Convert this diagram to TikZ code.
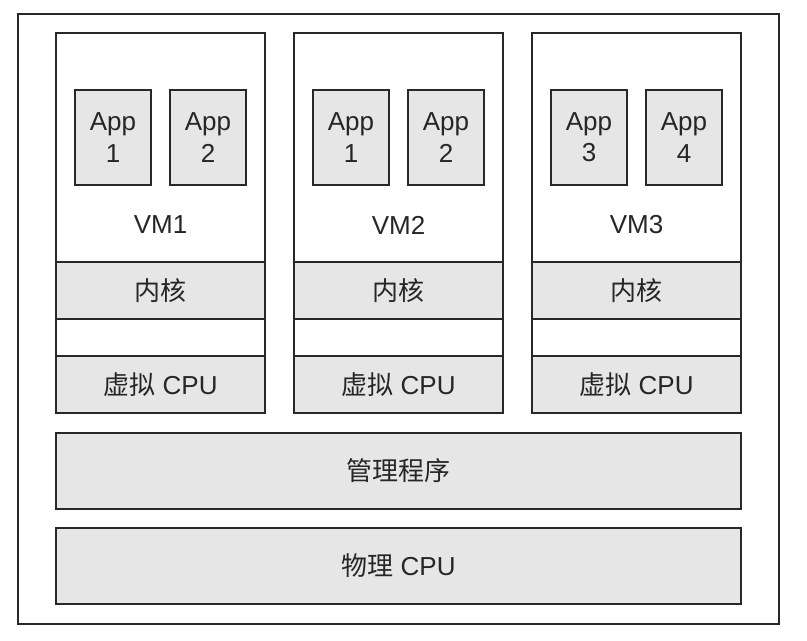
\documentclass[tikz,border=0pt]{standalone}
\usepackage{fontspec}
\setmainfont{Liberation Sans}
\newfontfamily\cjk{Noto Sans CJK SC}
\usepackage{tikz}
\definecolor{boxgray}{RGB}{230,230,230}
\definecolor{linegray}{RGB}{40,40,40}

\begin{document}
\begin{tikzpicture}[x=0.75pt, y=-0.75pt,
    every node/.style={draw=linegray, line width=1pt, text=black!85, font=\fontsize{19.5}{23.5}\selectfont, inner sep=0pt},
    frame/.style={fill=white, minimum width=570.75pt, minimum height=457.5pt},
    vm/.style={fill=white, minimum width=156.75pt, minimum height=285pt},
    app/.style={fill=boxgray, minimum width=57pt, minimum height=71.25pt, align=center},
    row/.style={fill=boxgray, minimum width=156.75pt, minimum height=42.75pt},
    layer/.style={fill=boxgray, minimum width=513.75pt, minimum height=57pt},
    lbl/.style={draw=none},
]
    \useasboundingbox (0,0) rectangle (807,640);
    \node[frame] (host) at (398.5,319) {};

    \foreach \i/\a/\b [evaluate=\i as \dx using (\i-1)*238] in {1/1/2, 2/1/2, 3/3/4} {
        \node[vm] (vm\i) at (160.5+\dx,223) {};
        \node[app] (app\i a) at (113+\dx,137.5) {App\\\a};
        \node[app] (app\i b) at (208+\dx,137.5) {App\\\b};
        \node[lbl] (name\i) at (160.5+\dx,225) {VM\i};
        \node[row] (kern\i) at (160.5+\dx,290.5) {{\cjk 内核}};
        \node[row] (vcpu\i) at (160.5+\dx,384.5) {{\cjk 虚拟} CPU};
    }

    \node[layer] (hyper) at (398.5,471) {{\cjk 管理程序}};
    \node[layer] (phys) at (398.5,566) {{\cjk 物理} CPU};
\end{tikzpicture}
\end{document}
